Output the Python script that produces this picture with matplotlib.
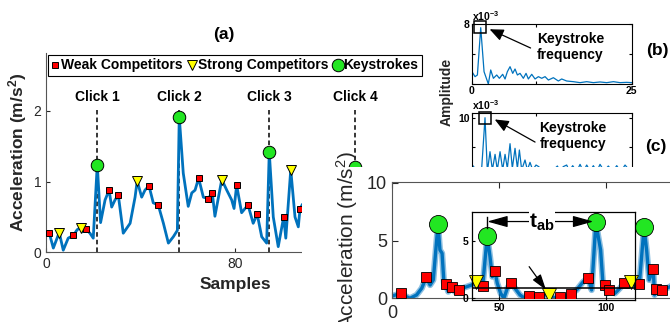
import matplotlib
matplotlib.use('Agg')
import matplotlib.pyplot as plt
from matplotlib.patches import Rectangle

plt.rcParams['font.family'] = ['Liberation Sans', 'DejaVu Sans']
plt.rcParams['mathtext.fontset'] = 'custom'
plt.rcParams['mathtext.rm'] = 'Liberation Sans'
plt.rcParams['mathtext.bf'] = 'Liberation Sans:bold'
plt.rcParams['mathtext.it'] = 'Liberation Sans:italic'

# ---------------- data: panel (a) ----------------
a_x = [1.4, 3.1, 5.6, 7.3, 9.4, 11.6, 13.2, 14.7, 15.5, 16.8, 18.6, 20.0, 21.7, 23.1, 25.0, 26.7,
       27.8, 29.2, 30.6, 32.7, 35.6, 37.7, 38.6, 40.5, 41.9, 43.6, 45.4, 47.5, 49.7, 51.8, 53.9,
       55.6, 56.4, 58.1, 60.2, 61.7, 63.1, 64.6, 66.6, 68.6, 70.4, 71.5, 74.4, 76.5, 78.6, 79.6,
       80.7, 82.8, 85.5, 87.7, 89.4, 91.3, 93.4, 94.5, 96.2, 98.3, 100.6, 101.5, 103.6, 105.4,
       106.8, 107.5, 108.4]
a_y = [0.27, 0.06, 0.28, 0.03, 0.20, 0.24, 0.32, 0.35, 0.29, 0.33, 0.27, 0.20, 1.24, 0.42, 0.74, 0.88,
       0.64, 0.74, 0.81, 0.27, 0.41, 0.78, 1.01, 0.78, 0.88, 0.94, 0.70, 0.67, 0.41, 0.13, 0.22,
       0.31, 1.92, 1.12, 0.65, 0.84, 0.88, 1.05, 0.78, 0.76, 0.84, 0.51, 1.03, 0.88, 0.74, 0.62,
       0.95, 0.56, 0.67, 0.41, 0.54, 0.22, 0.13, 1.42, 0.50, 0.08, 0.50, 0.20, 1.17, 0.50,
       0.36, 0.61, 0.67]
a_weak_x = [1.4, 11.6, 16.8, 26.7, 30.6, 43.6, 47.5, 64.6, 68.6, 70.4, 80.7, 85.5, 89.4, 100.6, 107.5]
a_weak_y = [0.27, 0.24, 0.33, 0.88, 0.81, 0.94, 0.67, 1.05, 0.76, 0.84, 0.95, 0.67, 0.54, 0.50, 0.61]
a_strong_x = [5.6, 14.7, 38.6, 74.4, 103.6]
a_strong_y = [0.28, 0.35, 1.01, 1.03, 1.17]
a_key_x = [21.7, 56.4, 94.5, 130.8]
a_key_y = [1.24, 1.92, 1.42, 1.21]
click_labels = ['Click 1', 'Click 2', 'Click 3', 'Click 4']

# ---------------- data: panel (b) ----------------
b_f = [0.1, 0.52, 0.89, 1.41, 1.93, 2.6, 2.97, 3.39, 3.91, 4.32, 4.84, 5.21, 5.57, 5.99, 6.41, 6.77,
       7.14, 7.55, 8.07, 8.49, 8.85, 9.38, 9.9, 10.42, 10.94, 11.46, 11.98, 12.76, 13.54, 14.06,
       14.84, 15.89, 16.93, 17.97, 19.01, 20.05, 21.09, 22.14, 23.18, 24.22, 25.0]
b_amp = [1.56, 0.98, 1.2, 7.51, 1.64, 0.0, 1.87, 0.76, 1.2, 0.76, 1.29, 0.67, 1.64, 2.31, 1.42, 2.0,
         1.2, 1.42, 0.76, 1.42, 0.67, 1.29, 0.67, 0.98, 0.76, 0.98, 0.53, 0.84, 0.4, 0.67,
         0.4, 0.31, 0.18, 0.31, 0.18, 0.27, 0.18, 0.31, 0.18, 0.22, 0.18]
b_peak = (1.35, 7.6)

# ---------------- data: panel (c) ----------------
c_f = [0.1, 0.5, 1.04, 1.56, 2.08, 2.45, 2.86, 3.23, 3.65, 4.0, 4.43, 4.84, 5.21, 5.57, 5.99, 6.35,
       6.77, 7.14, 7.45, 7.81, 8.33, 8.7, 9.11, 9.53, 10.05, 10.47, 10.94, 11.72, 12.76, 13.39,
       13.8, 14.3, 14.84, 15.26, 15.78, 16.4, 16.93, 17.45, 17.97, 18.49, 19.01, 19.53, 20.05,
       20.68, 21.35, 22.03, 22.66, 23.28, 23.96, 24.74]
c_amp = [1.84, 1.27, 0.7, 1.27, 10.0, 0.7, 4.14, 1.0, 3.68, 1.0, 4.14, 1.0, 3.68, 1.27, 5.52, 1.27,
         4.72, 1.27, 4.43, 1.0, 2.71, 1.0, 2.3, 1.0, 1.84, 1.56, 1.0, 0.7, 1.0, 1.67,
         0.7, 1.56, 1.84, 0.81, 1.73, 0.7, 1.96, 0.7, 1.84, 0.81, 1.73, 0.7, 1.96,
         0.81, 1.67, 0.7, 1.73, 0.7, 1.84, 0.81]
c_peak = (2.1, 9.95)

# ---------------- data: panel (d) ----------------
d_x = [0.1, 4.1, 6.1, 8.4, 11.5, 13.9, 16.0, 17.8, 19.3, 21.5, 22.4, 23.4, 24.3, 25.2, 26.3, 28.2,
       29.4, 31.2, 34.1, 37.2, 39.3, 41.1, 42.4, 44.5, 45.8, 46.9, 48.1, 49.2, 50.8, 52.3, 53.9,
       55.5, 57.5, 59.8, 62.1, 64.0, 68.8, 71.0, 73.5, 76.2, 78.5, 80.8, 83.6, 86.3, 89.4, 91.7,
       93.3, 95.3, 96.4, 97.5, 98.7, 99.7, 100.6, 101.6, 104.2, 106.5, 108.4, 111.7, 113.6,
       115.6, 117.8, 119.0, 120.2, 122.1, 122.7, 123.4, 126.0, 128.4, 129.9, 131.5]
d_y = [0.2, 0.43, 0.2, 0.0, 0.29, 0.87, 1.82, 1.15, 1.59, 6.41, 4.19, 3.9, 1.3, 1.21, 0.57, 0.95,
       0.57, 0.72, 0.95, 1.15, 1.39, 1.0, 1.09, 5.42, 3.6, 1.87, 2.37, 1.3, 0.43, 0.0, 0.87,
       1.35, 0.87, 0.29, 0.0, 0.2, 0.14, 0.29, 0.29, 0.0, 0.14, 0.14, 0.37, 0.72, 1.44, 1.73,
       0.72, 6.59, 5.34, 4.19, 1.0, 1.15, 0.43, 0.72, 0.43, 0.87, 1.3, 1.44, 1.0,
       1.24, 6.15, 4.19, 1.59, 2.57, 0.29, 0.81, 0.72, 0.87, 1.0, 1.2]
d_weak_x = [4.1, 16.0, 25.2, 28.2, 31.2, 42.4, 48.1, 55.5, 64.0, 68.8, 78.5, 83.6, 91.7, 99.7,
            101.6, 108.4, 115.6, 122.1, 123.4, 126.0]
d_weak_y = [0.43, 1.82, 1.21, 0.95, 0.72, 1.09, 2.37, 1.35, 0.2, 0.14, 0.14, 0.37, 1.73, 1.15,
            0.72, 1.3, 1.24, 2.57, 0.81, 0.72]
d_strong_x = [39.3, 73.5, 111.7]
d_strong_y = [1.39, 0.29, 1.44]
d_key_x = [21.5, 44.5, 95.3, 117.8]
d_key_y = [6.41, 5.42, 6.59, 6.15]
d_threshold = 0.87

W, H = 670, 322
BLUE = '#0072BD'
RED = '#FF0000'
YEL = '#FFFF00'
GRN = '#22E622'
TXT = '#262626'

fig = plt.figure(figsize=(W / 100, H / 100), dpi=100)


def box(x0, y0, x1, y1):
    return [x0 / W, 1 - y1 / H, (x1 - x0) / W, (y1 - y0) / H]


ARROW = dict(color='k', lw=0.9, shrinkA=0, shrinkB=0, mutation_scale=12)

# ================= panel (a) =================
ax = fig.add_axes(box(46, 53, 424, 252.3))
ax.set_zorder(0)
ax.plot(a_x, a_y, color=BLUE, lw=2, zorder=2)
ax.vlines(a_key_x, 0, 2.02, colors='k', linestyles=(0, (3, 2)), lw=1.1, zorder=1)
lw_ = ax.plot(a_weak_x, a_weak_y, 's', color=RED, mec='k', mew=0.7, ms=5, zorder=3,
              label='Weak Competitors')[0]
ls_ = ax.plot(a_strong_x, a_strong_y, 'v', color=YEL, mec='k', mew=0.7, ms=7, zorder=3,
              label='Strong Competitors')[0]
lk_ = ax.plot(a_key_x, a_key_y, 'o', color=GRN, mec='k', mew=0.7, ms=9, zorder=4,
              label='Keystrokes')[0]
for xk, lab in zip(a_key_x, click_labels):
    ax.text(xk, 2.2, lab, ha='center', va='center', fontsize=10, fontweight='bold', color='k')
ax.set_xlim(0, 160)
ax.set_ylim(0, 2.82)
ax.set_xticks([0, 80, 160])
ax.set_yticks([0, 1, 2])
ax.tick_params(direction='in', length=3, labelsize=10, colors=TXT)
for s in ['top', 'right']:
    ax.spines[s].set_visible(False)
for s in ['left', 'bottom']:
    ax.spines[s].set_color('#555555')
ax.set_xlabel('Samples', fontsize=12.5, fontweight='bold', color=TXT, labelpad=4)
ax.set_ylabel(r'Acceleration (m/s$\mathbf{^2}$)', fontsize=12.5, fontweight='bold', color=TXT,
              labelpad=3)
ax.set_title('(a)', fontsize=12.5, fontweight='bold', pad=10, x=0.47)
leg = ax.legend(handles=[lw_, ls_, lk_], loc='upper left', bbox_to_anchor=(0.006, 0.99),
                ncol=3, prop={'weight': 'bold', 'size': 10}, handlelength=0.5,
                handletextpad=0.15, columnspacing=0.45, borderpad=0.25, borderaxespad=0,
                fancybox=False, framealpha=1, edgecolor='k')
leg.get_frame().set_linewidth(0.8)

# ================= panel (b) =================
axb = fig.add_axes(box(471.7, 24, 631.7, 84))
axb.set_zorder(0)
axb.plot(b_f, b_amp, color=BLUE, lw=0.9)
axb.plot(*b_peak, 's', mfc='none', mec='k', ms=8, mew=1.1, clip_on=False)
axb.set_xlim(0, 25)
axb.set_ylim(0, 8)
axb.set_xticks([0, 10, 25])
axb.set_xticklabels(['0', '', '25'])
axb.set_yticks([0, 4, 8])
axb.set_yticklabels(['', '', '8'])
axb.tick_params(direction='in', length=2.5, labelsize=7.5, pad=1.5, top=True, right=True)
for t in axb.get_xticklabels() + axb.get_yticklabels():
    t.set_fontweight('bold')
axb.text(0.0, 1.02, r'$\mathbf{x10^{-3}}$', transform=axb.transAxes, fontsize=7.5,
         ha='left', va='bottom')
axb.text(15.4, 4.9, 'Keystroke\nfrequency', ha='center', va='center', fontsize=10,
         fontweight='bold', linespacing=1.2)
axb.annotate('', xy=(2.8, 7.3), xytext=(9.2, 4.8),
             arrowprops=dict(arrowstyle='-|>,head_length=0.7,head_width=0.3', **ARROW))

# ================= panel (c) =================
axc = fig.add_axes(box(471.7, 113.3, 631.7, 175.7))
axc.set_zorder(0)
axc.plot(c_f, c_amp, color=BLUE, lw=0.9)
axc.plot(*c_peak, 's', mfc='none', mec='k', ms=8, mew=1.1, clip_on=False)
axc.set_xlim(0, 25)
axc.set_ylim(0, 10.76)
axc.set_yticks([0, 5, 10])
axc.set_yticklabels(['', '', '10'])
axc.set_xticks([0, 10, 25])
axc.tick_params(direction='in', length=2.5, labelsize=7.5, pad=1.5, top=True, right=True)
for t in axc.get_yticklabels():
    t.set_fontweight('bold')
axc.text(0.0, 1.02, r'$\mathbf{x10^{-3}}$', transform=axc.transAxes, fontsize=7.5,
         ha='left', va='bottom')
axc.text(15.8, 6.9, 'Keystroke\nfrequency', ha='center', va='center', fontsize=10,
         fontweight='bold', linespacing=1.2)
axc.annotate('', xy=(3.6, 9.7), xytext=(9.9, 5.8),
             arrowprops=dict(arrowstyle='-|>,head_length=0.7,head_width=0.3', **ARROW))

fig.text(447 / W, 1 - 92 / H, 'Amplitude', rotation=90, ha='center', va='center',
         fontsize=10, fontweight='bold', color=TXT)
fig.text(646 / W, 1 - 50 / H, '(b)', ha='left', va='center', fontsize=12.5, fontweight='bold')
fig.text(645 / W, 1 - 146 / H, '(c)', ha='left', va='center', fontsize=12.5, fontweight='bold')

# white region covering the lower right part
fig.add_artist(Rectangle((302 / W, 0), (W - 302) / W, (H - 167) / H, transform=fig.transFigure,
                         facecolor='white', edgecolor='none', zorder=1))

# ================= panel (d) =================
axd = fig.add_axes(box(392, 181.7, 720, 298.3))
axd.set_zorder(2)
axd.set_facecolor('white')
axd.plot(d_x, d_y, color=BLUE, lw=4.5, alpha=0.45, zorder=2)
axd.plot(d_x, d_y, color=BLUE, lw=2.4, zorder=2)
axd.plot(d_weak_x, d_weak_y, 's', color=RED, mec='k', mew=0.6, ms=6.5, zorder=3)
axd.plot(d_strong_x, d_strong_y, 'v', color=YEL, mec='k', mew=0.6, ms=10, zorder=3)
axd.plot(d_key_x, d_key_y, 'o', color=GRN, mec='k', mew=0.6, ms=13, zorder=4)
axd.set_xlim(0, 153.3)
axd.set_ylim(0, 10.1)
axd.set_xticks([0, 50, 100, 150])
axd.set_xticklabels(['0', '', '', ''])
axd.set_yticks([0, 5, 10])
axd.tick_params(direction='in', length=4, labelsize=13, colors=TXT, top=True, right=True)
axd.tick_params(axis='x', pad=5)
for s in axd.spines.values():
    s.set_color('#555555')
axd.set_ylabel(r'Acceleration (m/s$^2$)', fontsize=15, color=TXT, labelpad=5)

ins = axd.inset_axes([37.2, -0.15, 113.6 - 37.2, 7.5 + 0.15], transform=axd.transData)
ins.set_facecolor('none')
ins.set_xlim(37.2, 113.6)
ins.set_ylim(-0.15, 7.5)
ins.set_xticks([50, 100])
ins.set_yticks([0, 5])
ins.tick_params(direction='in', length=2.5, labelsize=7.5, pad=2)
for t in ins.get_xticklabels() + ins.get_yticklabels():
    t.set_fontweight('bold')
for s in ins.spines.values():
    s.set_color('k')
    s.set_linewidth(0.9)
ins.axhline(d_threshold, color='k', lw=1.1)

axd.plot([d_key_x[1], d_key_x[1]], [6.06, 7.07], color='k', lw=1, zorder=5)
for xend in (d_key_x[1], 94.1):
    axd.annotate('', xy=(xend, 6.65), xytext=(70.1, 6.65),
                 arrowprops=dict(arrowstyle='-|>,head_length=0.9,head_width=0.25', color='k',
                                 lw=0.9, shrinkA=0, shrinkB=0, mutation_scale=14), zorder=5)
axd.text(70.1, 6.6, r'$\mathbf{t_{ab}}$', fontsize=15, ha='center', va='center', zorder=6,
         bbox=dict(facecolor='white', edgecolor='none', pad=0.5))
axd.annotate('', xy=(72.0, 0.72), xytext=(64.1, 2.74),
             arrowprops=dict(arrowstyle='-|>,head_length=0.8,head_width=0.25', **ARROW),
             zorder=5)

fig.savefig('out.png', dpi=100)
